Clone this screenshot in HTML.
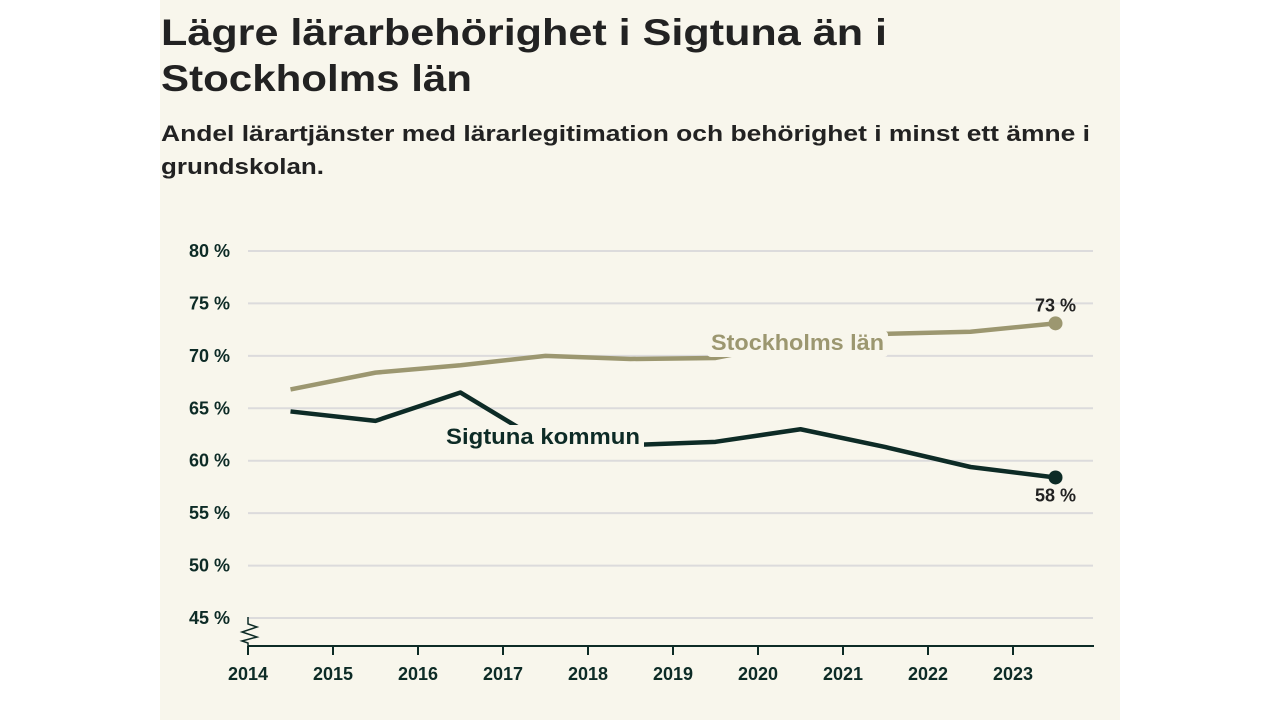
<!DOCTYPE html>
<html><head><meta charset="utf-8"><style>
html,body{margin:0;padding:0;background:#fff;}
svg{display:block;font-family:"Liberation Sans",sans-serif;}
</style></head><body>
<svg width="1280" height="720" viewBox="0 0 1280 720">
<rect x="160" y="0" width="960" height="720" fill="#f8f6ec"/>
<text x="161" y="45" font-size="37" font-weight="bold" fill="#222" textLength="726" lengthAdjust="spacingAndGlyphs">Lägre lärarbehörighet i Sigtuna än i</text>
<text x="161" y="91" font-size="37" font-weight="bold" fill="#222" textLength="311" lengthAdjust="spacingAndGlyphs">Stockholms län</text>
<text x="161" y="141" font-size="22" font-weight="bold" fill="#222" textLength="929" lengthAdjust="spacingAndGlyphs">Andel lärartjänster med lärarlegitimation och behörighet i minst ett ämne i</text>
<text x="161" y="174" font-size="22" font-weight="bold" fill="#222" textLength="163" lengthAdjust="spacingAndGlyphs">grundskolan.</text>
<g id="grid"></g><g id="axes"></g><g id="series"></g><g id="labels"></g>
</svg>
<script>
const years=[2014.5,2015.5,2016.5,2017.5,2018.5,2019.5,2020.5,2021.5,2022.5,2023.5];
const stockholm=[66.8,68.4,69.1,70.0,69.7,69.8,71.4,72.1,72.3,73.1];
const sigtuna=[64.7,63.8,66.5,61.6,61.5,61.8,63.0,61.3,59.4,58.4];
const yTicks=[45,50,55,60,65,70,75,80];
const xTicks=[2014,2015,2016,2017,2018,2019,2020,2021,2022,2023];
const NS="http://www.w3.org/2000/svg";
const X=v=>248+(v-2014)*85;
const Y=v=>618-(v-45)*10.486;
function mk(t,a,p){const e=document.createElementNS(NS,t);for(const k in a)e.setAttribute(k,a[k]);document.getElementById(p).appendChild(e);return e;}
yTicks.forEach(t=>{
 const l=mk('line',{x1:248,x2:1093,y1:Y(t),y2:Y(t),stroke:'#dcdbdc','stroke-width':2},'grid');
 
 
 const tx=mk('text',{x:230,y:Y(t)+6,'text-anchor':'end','font-size':18,'font-weight':'bold',fill:'#0d2b26'},'axes');
 tx.textContent=t+' %';
 
 
});
const ax=mk('line',{x1:248,x2:1094,y1:646,y2:646,stroke:'#0d2b26','stroke-width':2},'axes');


const br=mk('path',{d:'M248,617 L248,624 L257,627 L242,632 L257,637 L242,641 L248,643 L248,646',fill:'none',stroke:'#0d2b26','stroke-width':1.5},'axes');


xTicks.forEach(t=>{
 const l=mk('line',{x1:X(t),x2:X(t),y1:646,y2:655,stroke:'#0d2b26','stroke-width':2},'axes');
 
 
 const tx=mk('text',{x:X(t),y:680,'text-anchor':'middle','font-size':18,'font-weight':'bold',fill:'#0d2b26'},'axes');
 tx.textContent=t;
 
 
});
function line(vals,color,name){
 const d=vals.map((v,i)=>(i?'L':'M')+X(years[i])+','+Y(v)).join(' ');
 const p=mk('path',{d:d,fill:'none',stroke:color,'stroke-width':4.5,'stroke-linejoin':'round'},'series');
 
 
 const n=vals.length-1;
 const c=mk('circle',{cx:X(years[n]),cy:Y(vals[n]),r:7,fill:color},'series');
 
 
}
line(stockholm,'#9c9770','stockholm');
line(sigtuna,'#0d2b26','sigtuna');
function lab(x,y,txt,color,name,w){
 const h=mk('rect',{x:x-4,y:y-19,width:w+8,height:26,fill:'#f8f6ec',rx:4},'labels');
 
 
 const t=mk('text',{x:x,y:y,'font-size':22,'font-weight':'bold',fill:color,textLength:w,lengthAdjust:'spacingAndGlyphs'},'labels');
 t.textContent=txt;
 
 
}
lab(711,350,'Stockholms län','#9c9770','stockholm-label',173);
lab(446,444,'Sigtuna kommun','#0d2b26','sigtuna-label',194);
const n=years.length-1;
const a=mk('text',{x:X(years[n]),y:Y(stockholm[n])-12,'text-anchor':'middle','font-size':18,'font-weight':'bold',fill:'#222'},'labels');
a.textContent=Math.round(stockholm[n])+' %';


const b=mk('text',{x:X(years[n]),y:Y(sigtuna[n])+24,'text-anchor':'middle','font-size':18,'font-weight':'bold',fill:'#222'},'labels');
b.textContent=Math.round(sigtuna[n])+' %';


</script>
</body></html>
